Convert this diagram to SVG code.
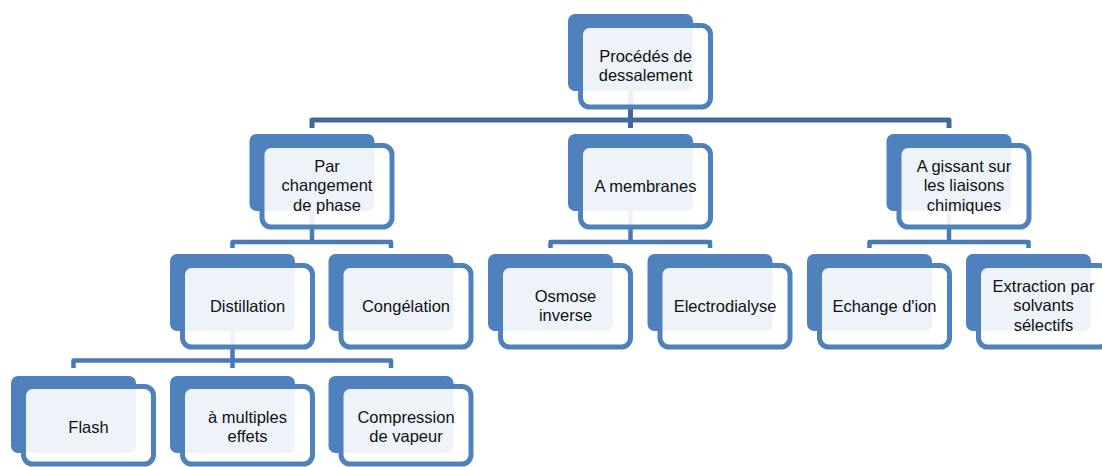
<svg xmlns="http://www.w3.org/2000/svg" width="1102" height="467" viewBox="0 0 1102 467">
  <style>
    .back { fill: #4f81bd; }
    .front { fill: #ffffff; fill-opacity: 0.9; stroke: #4f81bd; stroke-width: 5; }
    .lbl { font-family: "Liberation Sans", Arial, sans-serif; font-size: 16.5px; fill: #111111; text-anchor: middle; }
    .c0 { fill: none; stroke: #41699e; stroke-width: 5; stroke-linejoin: round; }
    .c1 { fill: none; stroke: #4a7ab5; stroke-width: 4.5; stroke-linejoin: round; }
  </style>

  <!-- connectors (drawn first so the translucent node faces show them faintly) -->
  <g id="connectors">
    <path class="c0" d="M312,128 V120 H949 V128"/>
    <path class="c0" d="M630.5,60 V128"/>
    <path class="c1" d="M232.5,248 V242 H391 V248"/>
    <path class="c1" d="M312,190 V242"/>
    <path class="c1" d="M550.5,248 V242 H710 V248"/>
    <path class="c1" d="M630.5,190 V242"/>
    <path class="c1" d="M869.5,248 V242 H1028.5 V248"/>
    <path class="c1" d="M949,190 V242"/>
    <path class="c1" d="M73.5,368 V360.5 H391 V368"/>
    <path class="c1" d="M232.5,310 V368"/>
  </g>

  <!-- level 0 -->
  <g id="n-dessalement">
    <rect class="back" x="568" y="14" width="125" height="77" rx="7"/>
    <rect class="front" x="580.5" y="25.5" width="130" height="81.5" rx="9"/>
    <text class="lbl" x="645.5" y="61.5">Procédés de</text>
    <text class="lbl" x="645.5" y="81.25">dessalement</text>
  </g>

  <!-- level 1 -->
  <g id="n-changement-phase">
    <rect class="back" x="249.5" y="134" width="125" height="77" rx="7"/>
    <rect class="front" x="262" y="145.5" width="130" height="81.5" rx="9"/>
    <text class="lbl" x="327" y="171.5">Par</text>
    <text class="lbl" x="327" y="191.25">changement</text>
    <text class="lbl" x="327" y="211">de phase</text>
  </g>
  <g id="n-membranes">
    <rect class="back" x="568" y="134" width="125" height="77" rx="7"/>
    <rect class="front" x="580.5" y="145.5" width="130" height="81.5" rx="9"/>
    <text class="lbl" x="645.5" y="192">A membranes</text>
  </g>
  <g id="n-liaisons-chimiques">
    <rect class="back" x="886.5" y="134" width="125" height="77" rx="7"/>
    <rect class="front" x="899" y="145.5" width="130" height="81.5" rx="9"/>
    <text class="lbl" x="964" y="171.5">A gissant sur</text>
    <text class="lbl" x="964" y="191.25">les liaisons</text>
    <text class="lbl" x="964" y="211">chimiques</text>
  </g>

  <!-- level 2 -->
  <g id="n-distillation">
    <rect class="back" x="170" y="254" width="125" height="77" rx="7"/>
    <rect class="front" x="182.5" y="265.5" width="130" height="81.5" rx="9"/>
    <text class="lbl" x="247.5" y="312">Distillation</text>
  </g>
  <g id="n-congelation">
    <rect class="back" x="328.5" y="254" width="125" height="77" rx="7"/>
    <rect class="front" x="341" y="265.5" width="130" height="81.5" rx="9"/>
    <text class="lbl" x="406" y="312">Congélation</text>
  </g>
  <g id="n-osmose">
    <rect class="back" x="488" y="254" width="125" height="77" rx="7"/>
    <rect class="front" x="500.5" y="265.5" width="130" height="81.5" rx="9"/>
    <text class="lbl" x="565.5" y="301.5">Osmose</text>
    <text class="lbl" x="565.5" y="321.25">inverse</text>
  </g>
  <g id="n-electrodialyse">
    <rect class="back" x="647.5" y="254" width="125" height="77" rx="7"/>
    <rect class="front" x="660" y="265.5" width="130" height="81.5" rx="9"/>
    <text class="lbl" x="725" y="312">Electrodialyse</text>
  </g>
  <g id="n-echange-ion">
    <rect class="back" x="807" y="254" width="125" height="77" rx="7"/>
    <rect class="front" x="819.5" y="265.5" width="130" height="81.5" rx="9"/>
    <text class="lbl" x="884.5" y="312">Echange d'ion</text>
  </g>
  <g id="n-extraction">
    <rect class="back" x="966" y="254" width="125" height="77" rx="7"/>
    <rect class="front" x="978.5" y="265.5" width="130" height="81.5" rx="9"/>
    <text class="lbl" x="1043.5" y="291.5">Extraction par</text>
    <text class="lbl" x="1043.5" y="311.25">solvants</text>
    <text class="lbl" x="1043.5" y="331">sélectifs</text>
  </g>

  <!-- level 3 (bottom row sits tight against the lower edge) -->
  <g id="n-flash">
    <rect class="back" x="11" y="376" width="125" height="77" rx="7"/>
    <rect class="front" x="23.5" y="386.5" width="130" height="77.5" rx="9"/>
    <text class="lbl" x="88.5" y="433">Flash</text>
  </g>
  <g id="n-multiples-effets">
    <rect class="back" x="170" y="376" width="125" height="77" rx="7"/>
    <rect class="front" x="182.5" y="386.5" width="130" height="77.5" rx="9"/>
    <text class="lbl" x="247.5" y="422.5">à multiples</text>
    <text class="lbl" x="247.5" y="442.25">effets</text>
  </g>
  <g id="n-compression-vapeur">
    <rect class="back" x="328.5" y="376" width="125" height="77" rx="7"/>
    <rect class="front" x="341" y="386.5" width="130" height="77.5" rx="9"/>
    <text class="lbl" x="406" y="422.5">Compression</text>
    <text class="lbl" x="406" y="442.25">de vapeur</text>
  </g>
</svg>
